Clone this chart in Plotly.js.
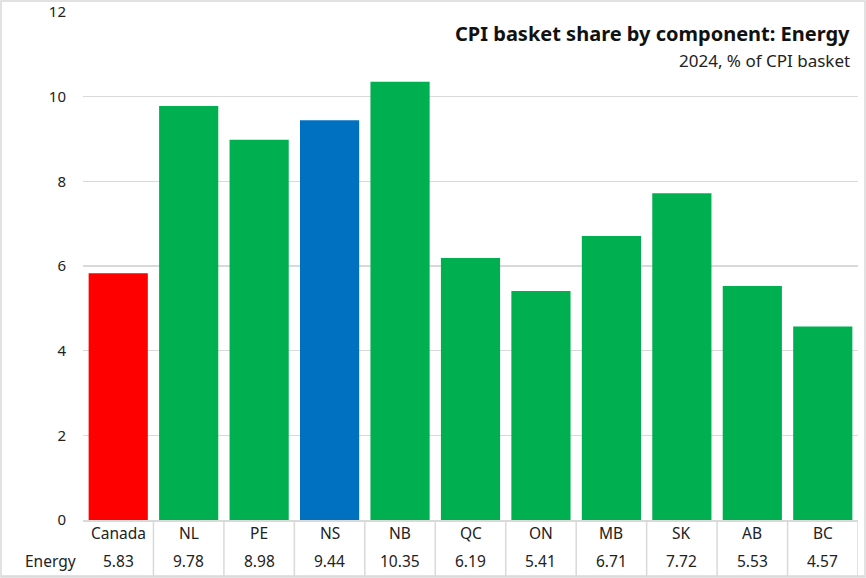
<!DOCTYPE html>
<html><head><meta charset="utf-8">
<script src="https://cdn.plot.ly/plotly-3.0.1.min.js"></script>
<style>html,body{margin:0;padding:0;background:#fff;}</style>
</head><body>
<div id="chart" style="width:866px;height:578px;"></div>
<script>
const categories = ["Canada","NL","PE","NS","NB","QC","ON","MB","SK","AB","BC"];
const energy = [5.83,9.78,8.98,9.44,10.35,6.19,5.41,6.71,7.72,5.53,4.57];
const barColors = ["#FF0000","#00B050","#00B050","#0070C0","#00B050","#00B050","#00B050","#00B050","#00B050","#00B050","#00B050"];
const seriesName = "Energy";
const titleText = "CPI basket share by component: Energy";
const subtitleText = "2024, % of CPI basket";

const W = 866, H = 578, mL = 83, mR = 8, mT = 12, mB = 58;
const pw = W - mL - mR, ph = H - mT - mB;
const px2x = p => (p - mL) / pw;
const py2y = p => (H - mB - p) / ph;
const font = "Noto Sans, Roboto, sans-serif";
const gridC = "#d9d9d9";

const annotations = [];
const shapes = [];
categories.forEach((c, i) => {
  annotations.push({x: c, xref: "x", y: py2y(533), yref: "paper", text: c, showarrow: false, font: {family: font, size: 15.5, color: "#222"}, yanchor: "middle"});
  annotations.push({x: c, xref: "x", y: py2y(561), yref: "paper", text: energy[i].toFixed(2), showarrow: false, font: {family: font, size: 15.5, color: "#222"}, yanchor: "middle"});
});
annotations.push({x: px2x(78), xref: "paper", y: py2y(561), yref: "paper", text: seriesName, showarrow: false, xanchor: "right", yanchor: "middle", font: {family: font, size: 15.5, color: "#222"}});
annotations.push({x: px2x(852), xref: "paper", y: py2y(33), yref: "paper", text: "<b>" + titleText + "</b>", showarrow: false, xanchor: "right", yanchor: "middle", font: {family: font, size: 20, color: "#111"}});
annotations.push({x: px2x(852), xref: "paper", y: py2y(60), yref: "paper", text: subtitleText, showarrow: false, xanchor: "right", yanchor: "middle", font: {family: font, size: 17, color: "#222"}});

for (let k = 1; k <= categories.length; k++) {
  shapes.push({type: "line", xref: "x", yref: "paper", x0: k - 0.5, x1: k - 0.5, y0: py2y(520), y1: py2y(576), line: {color: gridC, width: 1.5}});
}
shapes.push({type: "line", xref: "paper", yref: "paper", x0: px2x(1), x1: px2x(865), y0: py2y(576), y1: py2y(576), line: {color: gridC, width: 1.5}});
shapes.push({type: "rect", xref: "paper", yref: "paper", x0: px2x(1), x1: px2x(865), y0: py2y(577), y1: py2y(1), line: {color: gridC, width: 1.5}, fillcolor: "rgba(0,0,0,0)"});

const trace = {type: "bar", x: categories, y: energy, marker: {color: barColors}, hoverinfo: "skip"};

const layout = {
  width: W, height: H,
  margin: {l: mL, r: mR, t: mT, b: mB, pad: 0},
  paper_bgcolor: "#fff", plot_bgcolor: "#fff",
  showlegend: false,
  bargap: 0.16,
  xaxis: {type: "category", showticklabels: false, ticks: "", showgrid: false, showline: true, linecolor: gridC, linewidth: 1.5, range: [-0.5, categories.length - 0.5], fixedrange: true},
  yaxis: {range: [0, 12], dtick: 2, tick0: 0, showgrid: true, gridcolor: gridC, gridwidth: 1.5, zeroline: false, showline: false, ticks: "", ticklabelstandoff: 16, tickfont: {family: font, size: 15, color: "#222"}, fixedrange: true},
  annotations: annotations,
  shapes: shapes
};
Plotly.newPlot("chart", [trace], layout, {displayModeBar: false, staticPlot: true});
</script>
</body></html>
